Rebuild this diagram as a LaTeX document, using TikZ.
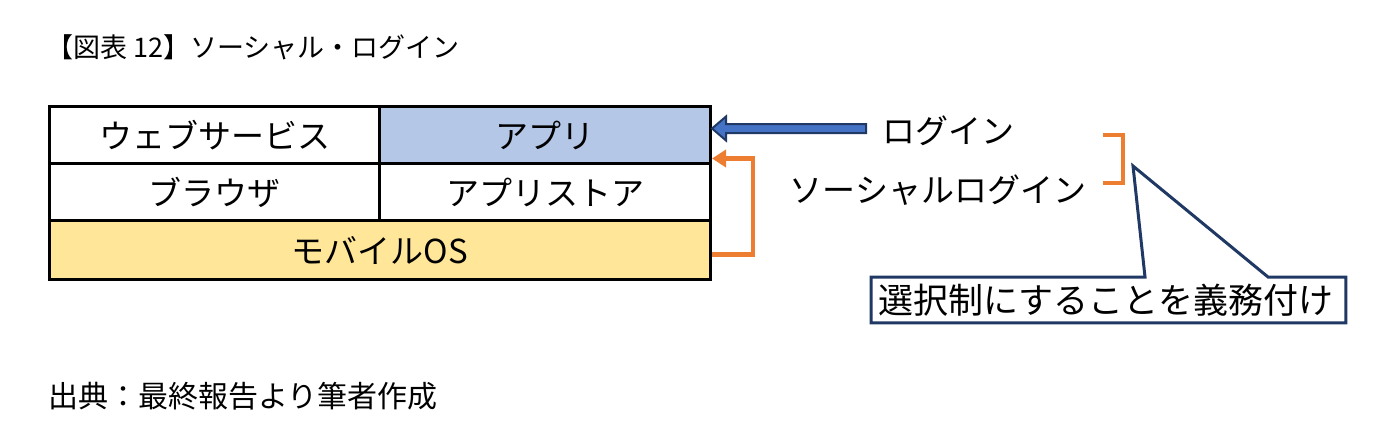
\documentclass[tikz,border=0pt]{standalone}
\usepackage{fontspec}
\newfontfamily\jp{Noto Sans CJK JP}
\usetikzlibrary{calc,arrows.meta}
\definecolor{appBlue}{RGB}{180,199,231}
\definecolor{osYellow}{RGB}{255,230,153}
\definecolor{arrowBlue}{RGB}{68,114,196}
\definecolor{navyLine}{RGB}{31,56,100}
\definecolor{socialOrange}{RGB}{237,125,49}

\begin{document}
\begin{tikzpicture}[
    x=0.5pt, y=-0.5pt,
    every node/.style={font=\jp},
    cell/.style={draw=black, line width=1.5pt, anchor=north west,
      inner sep=0pt, minimum height=28.5pt, font=\jp\fontsize{16.5}{18}\selectfont},
    label text/.style={font=\jp\fontsize{16.5}{18}\selectfont, inner sep=0pt},
    login arrow/.style={draw=navyLine, fill=arrowBlue, line width=1pt, line join=miter},
    social arrow/.style={draw=socialOrange, line width=2.4pt,
      -{Triangle[length=7pt,width=8.5pt]}},
    bracket/.style={draw=socialOrange, line width=2.4pt},
    callout/.style={draw=navyLine, line width=1.5pt, line join=miter},
  ]
  \useasboundingbox (0,0) rectangle (1395,441);

  % --- Title ---
  \node[anchor=west, inner sep=0pt, font=\jp\fontsize{13.5}{15}\selectfont]
    (title) at (46,47) {【図表 12】ソーシャル・ログイン};

  % --- Layer table ---
  \node[cell, minimum width=165pt] (web) at (48,105) {ウェブサービス};
  \node[cell, minimum width=165.5pt, fill=appBlue] (app) at (378,105) {アプリ};
  \node[cell, minimum width=165pt] (browser) at (48,162) {ブラウザ};
  \node[cell, minimum width=165.5pt] (store) at (378,162) {アプリストア};
  \node[cell, minimum width=330.5pt, minimum height=29.5pt, fill=osYellow]
    (os) at (48,219) {モバイルOS};

  % --- Login (block arrow into the app) ---
  \coordinate (logintip) at ($(app.east)+(0,-6.5)$);
  \filldraw[login arrow] (logintip) -- ++(14,-12) -- ++(0,7.5) -- ++(140,0)
    -- ++(0,9) -- ++(-140,0) -- ++(0,7.5) -- cycle;
  \node[label text] (login) at (948,131) {ログイン};

  % --- Social login (from OS back up to the app) ---
  \coordinate (osout) at ($(os.east)+(0,4.5)$);
  \coordinate (appin) at ($(app.east)+(0,23.5)$);
  \draw[social arrow] (osout) -- ++(41,0) |- (appin);
  \node[label text] (social) at (938,190) {ソーシャルログイン};

  % --- Bracket round both logins ---
  \coordinate (brtop) at (1103,135);
  \draw[bracket] (brtop) -- ++(20,0) -- ++(0,48) -- ++(-20,0);

  % --- Callout ---
  \coordinate (calltip) at (1133,166);
  \node[anchor=north west, inner xsep=3.5pt, inner ysep=0pt, text width=230pt,
    minimum height=22.5pt, align=left, font=\jp\fontsize{17.5}{19}\selectfont]
    (note) at (871,277) {選択制にすることを義務付け};
  \draw[callout] (note.north west) -- ($(note.north west)+(274,0)$) -- (calltip)
    -- ($(note.north west)+(397,0)$) -- (note.north east) -- (note.south east)
    -- (note.south west) -- cycle;

  % --- Source ---
  \node[anchor=west, inner sep=0pt, font=\jp\fontsize{15}{17}\selectfont]
    (source) at (48,396) {出典：最終報告より筆者作成};

\end{tikzpicture}
\end{document}
